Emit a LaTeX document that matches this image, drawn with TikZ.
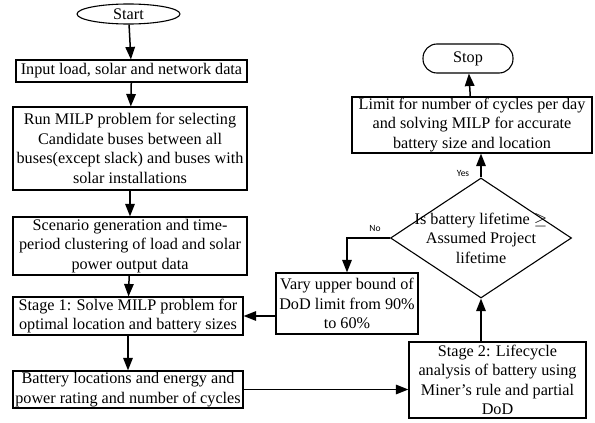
\documentclass[tikz,border=0pt]{standalone}
\usepackage{fontspec}
\setmainfont{Liberation Serif}
\newfontfamily\labelfont{Carlito}
\usetikzlibrary{shapes.geometric,arrows.meta}
\begin{document}
\begin{tikzpicture}[x=1pt,y=-1pt,
  box/.style={draw, line width=1.1pt, align=center, inner sep=0pt,
    font=\fontsize{16.2}{19.5}\selectfont},
  decision/.style={draw, diamond, line width=1.1pt, inner sep=0pt,
    minimum width=181pt, minimum height=120pt},
  flow/.style={line width=1.5pt, -{Triangle[length=12.5pt,width=9.5pt]}},
  answer/.style={font=\labelfont\fontsize{9.5}{11}\selectfont}]
\useasboundingbox (0,0) rectangle (595,423);
% left column
\node[box, ellipse, minimum width=103pt, minimum height=20pt] (start) at (128.5,14) {Start};
\node[box, minimum width=231pt, minimum height=22pt] (input) at (131.5,71) {Input load, solar and network data};
\node[box, minimum width=234pt, minimum height=83pt] (run) at (130,148.5) {Run MILP problem for selecting\\Candidate buses between all\\buses(except slack) and buses with\\solar installations};
\node[box, minimum width=234pt, minimum height=58pt] (scen) at (130,246) {Scenario generation and time-\\period clustering of load and solar\\power output data};
\node[box, minimum width=230pt, minimum height=38pt] (s1) at (128,316) {Stage 1: Solve MILP problem for\\optimal location and battery sizes};
\node[box, minimum width=230pt, minimum height=37pt] (bat) at (128,389.5) {Battery locations and energy and\\power rating and number of cycles};
% right column
\node[box, minimum width=142pt, minimum height=61pt] (vary) at (347,303.5) {Vary upper bound of\\DoD limit from 90\%\\to 60\%};
\node[box, minimum width=177pt, minimum height=76pt] (s2) at (497.5,380) {Stage 2: Lifecycle\\analysis of battery using\\Miner’s rule and partial\\DoD};
\node[decision, label={[box, draw=none]center:Is battery lifetime $\geq$\\Assumed Project\\lifetime}] (dia) at (481,238) {};
\node[box, minimum width=240pt, minimum height=56pt] (lim) at (472,125) {Limit for number of cycles per day\\and solving MILP for accurate\\battery size and location};
\node[box, rounded corners=14pt, minimum width=90pt, minimum height=29pt] (stop) at (468,58.5) {Stop};
% connectors
\draw[flow] (start) -- (input);
\draw[flow] (input) -- (run);
\draw[flow] (run) -- (scen);
\draw[flow] (scen) -- (s1);
\draw[flow] (s1) -- (bat);
\draw[flow] (bat.east) -- (bat.east -| s2.west);
\draw[flow] (dia.south |- s2.north) -- (dia.south);
\draw[flow] (dia.north) -- (dia.north |- lim.south);
\draw[flow] (lim) -- (stop);
\draw[flow] (dia.west) -| (vary.north);
\draw[flow] (vary.west |- s1) -- (s1);
\node[answer] (yes) at (463,173) {Yes};
\node[answer] (no) at (375,228) {No};
\end{tikzpicture}
\end{document}
